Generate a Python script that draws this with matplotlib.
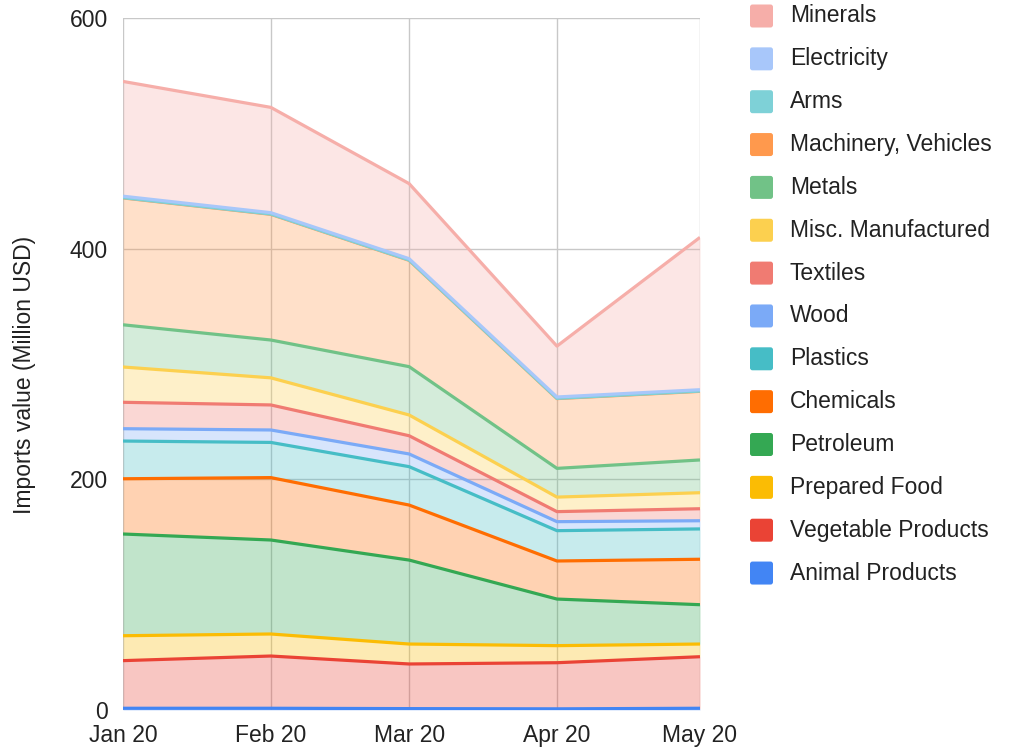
import datetime as dt
import matplotlib
matplotlib.use("Agg")
import matplotlib.pyplot as plt
import matplotlib.dates as mdates
from matplotlib.patches import FancyBboxPatch
import numpy as np

plt.rcParams["font.family"] = ["Liberation Sans", "DejaVu Sans"]

# Months (first day of each month, 2020)
months = [dt.date(2020, 1, 1), dt.date(2020, 2, 1), dt.date(2020, 3, 1),
          dt.date(2020, 4, 1), dt.date(2020, 5, 1)]
month_labels = ["Jan 20", "Feb 20", "Mar 20", "Apr 20", "May 20"]

# Import values by product group (Million USD), stacked bottom to top
animal_products = [1.5, 1.5, 1.2, 1.0, 1.5]
vegetable_products = [41.3, 45.3, 38.7, 40.0, 44.7]
prepared_food = [21.6, 19.1, 17.3, 14.8, 11.0]
petroleum = [88.2, 81.5, 72.8, 40.4, 34.1]
chemicals = [47.9, 54.1, 47.7, 33.0, 39.4]
plastics = [32.7, 30.5, 33.3, 26.3, 26.3]
wood = [10.7, 10.8, 11.0, 7.8, 7.1]
textiles = [22.9, 21.7, 15.8, 8.7, 10.4]
misc_manufactured = [30.6, 23.5, 18.0, 12.6, 13.9]
metals = [36.6, 32.8, 41.9, 24.9, 28.4]
machinery_vehicles = [110.0, 109.0, 92.2, 60.5, 59.5]
arms = [0.2, 0.2, 0.2, 0.2, 0.2]
electricity = [1.3, 1.2, 1.2, 1.2, 1.2]
minerals = [99.5, 91.3, 65.1, 44.1, 132.1]

series_names = ["Animal Products", "Vegetable Products", "Prepared Food",
                "Petroleum", "Chemicals", "Plastics", "Wood", "Textiles",
                "Misc. Manufactured", "Metals", "Machinery, Vehicles",
                "Arms", "Electricity", "Minerals"]
series_values = [animal_products, vegetable_products, prepared_food,
                 petroleum, chemicals, plastics, wood, textiles,
                 misc_manufactured, metals, machinery_vehicles, arms,
                 electricity, minerals]
series_colors = ["#4285F4", "#EA4335", "#FBBC04", "#34A853", "#FF6D01",
                 "#46BDC6", "#7BAAF7", "#F07B72", "#FCD04F", "#71C287",
                 "#FF994D", "#7ED1D7", "#A8C7FA", "#F6AEA9"]

y_ticks = [0, 200, 400, 600]

W, H = 1012, 750
fig = plt.figure(figsize=(W / 100, H / 100), dpi=100)
ax = fig.add_axes([123 / W, 40 / H, 577 / W, 692 / H])

x = mdates.date2num(months)
base = np.zeros(len(x))
tops = []
for vals, col in zip(series_values, series_colors):
    top = base + np.array(vals, dtype=float)
    ax.fill_between(x, base, top, color=col, alpha=0.3, lw=0, zorder=2)
    tops.append(top)
    base = top
for top, col in zip(tops, series_colors):
    ax.plot(x, top, color=col, lw=2.3, solid_joinstyle="round",
            solid_capstyle="butt", zorder=3)

ax.set_xlim(x[0], x[-1])
ax.set_ylim(0, 600)
ax.set_xticks(x)
ax.set_xticklabels(month_labels)
ax.set_yticks(y_ticks)
ax.set_yticklabels([str(v) for v in y_ticks])
ax.grid(True, color="#c8c8c8", lw=1.0, zorder=1)
ax.set_axisbelow(True)
for s in ax.spines.values():
    s.set_visible(False)
ax.tick_params(axis="both", length=0, labelsize=16.5, colors="#222222")
ax.tick_params(axis="x", pad=10)
ax.tick_params(axis="y", pad=11)

fig.text(25 / W, 0.5, "Imports value (Million USD)", rotation=90,
         ha="center", va="center", fontsize=16.5, color="#222222")

# Legend, top series first
row0, step = 16.0, 42.85
for i, (name, col) in enumerate(zip(series_names[::-1], series_colors[::-1])):
    yc = row0 + i * step
    sw = FancyBboxPatch((750, H - yc - 11.5), 23, 23,
                        boxstyle="round,pad=0,rounding_size=2.5",
                        transform=None, facecolor=col, edgecolor="none")
    fig.patches.append(sw)
    fig.text(790 / W, 1 - yc / H, name, ha="left", va="center",
             fontsize=16.5, color="#222222")

fig.savefig("out.png", dpi=100)
